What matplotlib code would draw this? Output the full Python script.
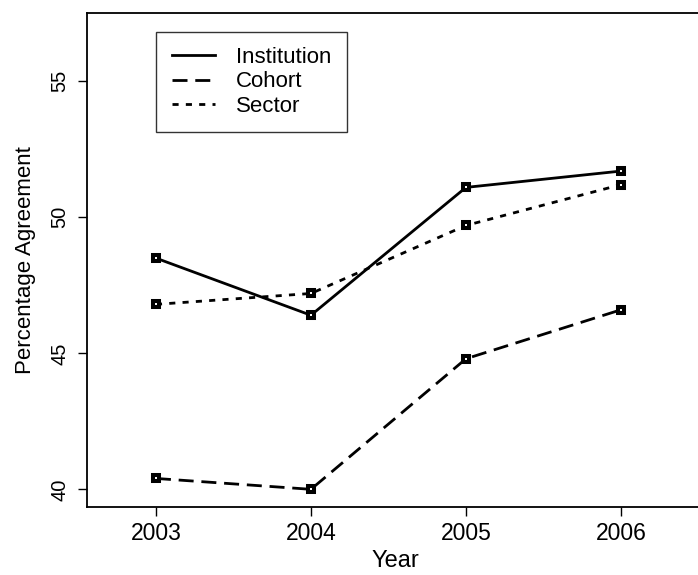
import numpy as np
import matplotlib as mpl
mpl.use('Agg')
from matplotlib import pyplot as plt

years = [2003, 2004, 2005, 2006]
institution = [48.5, 46.4, 51.1, 51.7]
cohort = [40.4, 40.0, 44.8, 46.6]
sector = [46.8, 47.2, 49.7, 51.2]

plt.rcParams['font.family'] = ['Liberation Sans', 'DejaVu Sans']

W, H = 698., 575.
fig = plt.figure(figsize=(W/100, H/100), dpi=100)
# frame: left 86.5px, top 12.5px, bottom 507px, right runs off the picture
ax = fig.add_axes([86.5/W, (H-507)/H, (704-86.5)/W, (507-12.5)/H])

mk = dict(marker='s', markersize=4.3, markerfacecolor='white',
          markeredgecolor='black', markeredgewidth=2.9, color='black', lw=2)
ax.plot(years, institution, ls='-', label='Institution', **mk)
ax.plot(years, cohort, ls=(0, (5.4, 2.8)), label='Cohort', **mk)
ax.plot(years, sector, ls=(0, (2.2, 2.6)), label='Sector', **mk)

ax.set_xlim(2002.552, 2006.536)
ax.set_ylim(39.35, 57.53)
ax.set_xticks(years)
ax.set_yticks([40, 45, 50, 55])
ax.tick_params(axis='both', direction='out', length=6.5, width=1)
ax.tick_params(axis='x', labelsize=16.5, pad=4)
ax.tick_params(axis='y', labelsize=14.5, labelrotation=90, pad=6)
for lab in ax.get_yticklabels():
    lab.set_va('center')
ax.set_xlabel('Year', fontsize=17, labelpad=4)
ax.set_ylabel('Percentage Agreement', fontsize=16, labelpad=10)
for sp in ax.spines.values():
    sp.set_linewidth(1.3)

leg = ax.legend(loc='upper left', bbox_to_anchor=((156-86.5)/617.5, 1 - 19/494.5),
                fontsize=16, frameon=True, fancybox=False, handlelength=1.95,
                handletextpad=0.95, borderpad=0.7, labelspacing=0.15,
                borderaxespad=0)
leg.get_frame().set_edgecolor('black')
leg.get_frame().set_linewidth(1)
for h in leg.get_lines():
    h.set_marker('')

fig.savefig('out.png', dpi=100)
